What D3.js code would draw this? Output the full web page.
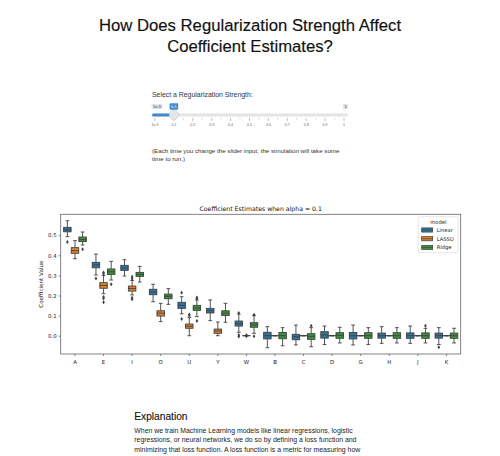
<!DOCTYPE html>
<html>
<head>
<meta charset="utf-8">
<script src="https://cdn.jsdelivr.net/npm/d3@7"></script>
<style>
  body { margin: 0; background: #fff; }
  svg { display: block; }
</style>
</head>
<body>
<svg id="page"></svg>
<script>
const letters = ['A', 'E', 'I', 'O', 'U', 'Y', 'W', 'B', 'C', 'D', 'G', 'H', 'J', 'K'];
const models = ['Linear', 'LASSO', 'Ridge'];
const modelColors = ['#3274a1', '#e1812c', '#3a923a'];
const yTicks = [0.0, 0.1, 0.2, 0.3, 0.4, 0.5];
const sliderTicks = [0, 0.1, 0.2, 0.3, 0.4, 0.5, 0.6, 0.7, 0.8, 0.9, 1];
const sliderLabels = ['1e-9', '0.1', '0.2', '0.3', '0.4', '0.5', '0.6', '0.7', '0.8', '0.9', '1'];
const alpha = 0.1;

// [lower whisker, q1, median, q3, upper whisker]
const linearBox = [
  [0.493, 0.517, 0.527, 0.539, 0.572],
  [0.302, 0.338, 0.352, 0.365, 0.406],
  [0.297, 0.325, 0.337, 0.350, 0.378],
  [0.169, 0.204, 0.217, 0.231, 0.256],
  [0.109, 0.136, 0.151, 0.166, 0.194],
  [0.075, 0.113, 0.125, 0.136, 0.178],
  [0.017, 0.048, 0.060, 0.073, 0.108],
  [-0.060, -0.016, 0.000, 0.017, 0.045],
  [-0.046, -0.020, -0.005, 0.007, 0.053],
  [-0.044, -0.012, 0.004, 0.020, 0.048],
  [-0.046, -0.016, 0.000, 0.016, 0.053],
  [-0.038, -0.012, 0.000, 0.013, 0.045],
  [-0.038, -0.013, 0.000, 0.014, 0.048],
  [-0.044, -0.012, 0.000, 0.013, 0.040]
];
const lassoBox = [
  [0.383, 0.410, 0.423, 0.438, 0.473],
  [0.209, 0.236, 0.250, 0.264, 0.300],
  [0.203, 0.222, 0.235, 0.247, 0.275],
  [0.070, 0.098, 0.112, 0.124, 0.161],
  [0.000, 0.037, 0.047, 0.058, 0.091],
  [0.000, 0.012, 0.024, 0.033, 0.068],
  [0, 0, 0, 0, 0],
  [0, 0, 0, 0, 0],
  [0, 0, 0, 0, 0],
  [0, 0, 0, 0, 0],
  [0, 0, 0, 0, 0],
  [0, 0, 0, 0, 0],
  [0, 0, 0, 0, 0],
  [0, 0, 0, 0, 0]
];
const ridgeBox = [
  [0.451, 0.468, 0.478, 0.491, 0.516],
  [0.277, 0.305, 0.318, 0.332, 0.370],
  [0.267, 0.295, 0.305, 0.315, 0.345],
  [0.156, 0.184, 0.196, 0.207, 0.234],
  [0.095, 0.126, 0.138, 0.151, 0.178],
  [0.067, 0.100, 0.112, 0.124, 0.161],
  [0.012, 0.042, 0.054, 0.065, 0.100],
  [-0.050, -0.015, 0.000, 0.016, 0.040],
  [-0.055, -0.018, -0.003, 0.010, 0.040],
  [-0.036, -0.013, 0.002, 0.015, 0.042],
  [-0.044, -0.013, 0.000, 0.015, 0.040],
  [-0.036, -0.013, 0.000, 0.015, 0.040],
  [-0.036, -0.013, 0.000, 0.014, 0.037],
  [-0.036, -0.013, 0.000, 0.013, 0.037]
];
const linearOut = [[0.466], [0.284], [], [], [0.214, 0.083], [], [0.113, 0.003, -0.004], [], [], [], [], [], [], [-0.058]];
const lassoOut = [[], [0.315, 0.308, 0.193, 0.185, 0.167], [0.293, 0.283, 0.189, 0.182], [], [0.106, 0.100], [], [0.004, -0.003], [], [], [], [], [], [], []];
const ridgeOut = [[0.430], [0.256], [], [], [0.190, 0.185, 0.073], [], [0.104, -0.003], [], [0.050], [], [], [], [0.050], []];

const boxes = [linearBox, lassoBox, ridgeBox];
const outliers = [linearOut, lassoOut, ridgeOut];

const W = 500, H = 456;
const svg = d3.select('#page').attr('width', W).attr('height', H);
const pageFont = '"Liberation Sans", Arial, sans-serif';
const plotFont = '"DejaVu Sans", sans-serif';

// ---- page header ----
svg.append('text').attr('x', 250).attr('y', 31).attr('text-anchor', 'middle')
  .style('font-family', pageFont).style('font-size', '16.7px').attr('fill', '#111')
  .attr('stroke', '#111').attr('stroke-width', 0.15)
  .text('How Does Regularization Strength Affect');
svg.append('text').attr('x', 250).attr('y', 52).attr('text-anchor', 'middle')
  .style('font-family', pageFont).style('font-size', '16.7px').attr('fill', '#111')
  .attr('stroke', '#111').attr('stroke-width', 0.15)
  .text('Coefficient Estimates?');

svg.append('text').attr('x', 152).attr('y', 97)
  .style('font-family', pageFont).style('font-size', '6.9px').attr('fill', '#333')
  .text('Select a Regularization Strength:');

// ---- slider ----
const sx = d3.scaleLinear().domain([0, 1]).range([155, 344]);
const slider = svg.append('g');
slider.append('rect').attr('x', 152).attr('y', 113.5).attr('width', 196).attr('height', 3)
  .attr('rx', 1.5).attr('fill', '#e4e4e4');
slider.append('rect').attr('x', 152).attr('y', 113.5).attr('width', sx(alpha) - 152).attr('height', 3)
  .attr('rx', 1.5).attr('fill', '#428bca');

const minorTicks = d3.range(0.05, 1, 0.1);
slider.selectAll('.minor').data(minorTicks).join('line')
  .attr('x1', d => sx(d)).attr('x2', d => sx(d)).attr('y1', 118).attr('y2', 119.5)
  .attr('stroke', '#aaa').attr('stroke-width', 0.5);
slider.selectAll('.major').data(sliderTicks).join('line')
  .attr('x1', d => sx(d)).attr('x2', d => sx(d)).attr('y1', 118).attr('y2', 121)
  .attr('stroke', '#999').attr('stroke-width', 0.6);
slider.selectAll('.glabel').data(sliderTicks).join('text')
  .attr('x', d => sx(d)).attr('y', 126).attr('text-anchor', 'middle')
  .style('font-family', pageFont).style('font-size', '3.6px').attr('fill', '#666')
  .text((d, i) => sliderLabels[i]);

function tag(x, txt, bg, fg, h) {
  const t = slider.append('text').attr('x', x).attr('y', 108)
    .attr('text-anchor', 'middle').style('font-family', pageFont)
    .style('font-size', '4px').attr('fill', fg).text(txt);
  const w = t.node().getComputedTextLength() + 3;
  slider.insert('rect', () => t.node())
    .attr('x', x - w / 2).attr('y', 106.5 - h / 2).attr('width', w).attr('height', h)
    .attr('rx', 1).attr('fill', bg);
}
tag(157, sliderLabels[0], '#e1e4e9', '#333', 5);
tag(345.5, sliderLabels[sliderLabels.length - 1], '#e1e4e9', '#333', 5);
tag(sx(alpha), String(alpha), '#428bca', '#fff', 6.5);

slider.append('circle').attr('cx', sx(alpha)).attr('cy', 115).attr('r', 4.6)
  .attr('fill', '#e6e6e6').attr('stroke', '#c8c8c8').attr('stroke-width', 0.6);

svg.append('text').attr('x', 152).attr('y', 152.5)
  .style('font-family', pageFont).style('font-size', '6.2px').attr('fill', '#333')
  .text('(Each time you change the slider input, the simulation will take some');
svg.append('text').attr('x', 152).attr('y', 161)
  .style('font-family', pageFont).style('font-size', '6.2px').attr('fill', '#333')
  .text('time to run.)');

// ---- box plot ----
const pLeft = 60.7, pRight = 460.7, pTop = 214.3, pBottom = 354;
const x = d3.scaleBand().domain(letters).range([pLeft, pRight]).padding(0);
const y = d3.scaleLinear().domain([-0.091, 0.604]).range([pBottom, pTop]);
const hue = d3.scaleBand().domain(models).range([0, x.bandwidth() * 0.8]);
const boxW = hue.bandwidth() * 0.98;
const edge = '#404040';

const plot = svg.append('g');

plot.append('text').attr('x', (pLeft + pRight) / 2).attr('y', 211)
  .attr('text-anchor', 'middle').style('font-family', plotFont).style('font-size', '6.2px')
  .attr('fill', '#111').text('Coefficient Estimates when alpha = ' + alpha);

const yAxis = plot.append('g').attr('transform', `translate(${pLeft},0)`)
  .call(d3.axisLeft(y).tickValues(yTicks).tickFormat(d3.format('.1f')).tickSize(2).tickPadding(2));
const xAxis = plot.append('g').attr('transform', `translate(0,${pBottom})`)
  .call(d3.axisBottom(x).tickSize(2).tickPadding(4));
[xAxis, yAxis].forEach(a => {
  a.select('.domain').remove();
  a.selectAll('line').attr('stroke', '#333').attr('stroke-width', 0.6);
  a.selectAll('text').style('font-family', plotFont).style('font-size', '5.4px').attr('fill', '#222');
});

plot.append('text').attr('transform', `translate(42.5,${(pTop + pBottom) / 2}) rotate(-90)`)
  .attr('text-anchor', 'middle').style('font-family', plotFont).style('font-size', '5.6px')
  .attr('fill', '#222').text('Coefficient Value');

models.forEach((m, mi) => {
  const g = plot.append('g');
  const cx = d => x(d) + x.bandwidth() * 0.1 + hue(m) + hue.bandwidth() / 2;
  const data = letters.map((l, i) => ({ l, s: boxes[mi][i], o: outliers[mi][i] }));
  const grp = g.selectAll('g').data(data).join('g');
  grp.append('line').attr('x1', d => cx(d.l)).attr('x2', d => cx(d.l))
    .attr('y1', d => y(d.s[0])).attr('y2', d => y(d.s[1])).attr('stroke', edge).attr('stroke-width', 0.9);
  grp.append('line').attr('x1', d => cx(d.l)).attr('x2', d => cx(d.l))
    .attr('y1', d => y(d.s[3])).attr('y2', d => y(d.s[4])).attr('stroke', edge).attr('stroke-width', 0.9);
  [0, 4].forEach(k => {
    grp.append('line').attr('x1', d => cx(d.l) - boxW / 4).attr('x2', d => cx(d.l) + boxW / 4)
      .attr('y1', d => y(d.s[k])).attr('y2', d => y(d.s[k])).attr('stroke', edge).attr('stroke-width', 0.9);
  });
  grp.append('rect').attr('x', d => cx(d.l) - boxW / 2).attr('width', boxW)
    .attr('y', d => y(d.s[3])).attr('height', d => Math.max(0.01, y(d.s[1]) - y(d.s[3])))
    .attr('fill', modelColors[mi]).attr('stroke', edge).attr('stroke-width', 0.9);
  grp.append('line').attr('x1', d => cx(d.l) - boxW / 2).attr('x2', d => cx(d.l) + boxW / 2)
    .attr('y1', d => y(d.s[2])).attr('y2', d => y(d.s[2])).attr('stroke', edge).attr('stroke-width', 0.9);
  grp.selectAll('path').data(d => d.o.map(v => ({ l: d.l, v }))).join('path')
    .attr('d', d => {
      const px = cx(d.l), py = y(d.v);
      return `M${px},${py - 2}L${px + 1.3},${py}L${px},${py + 2}L${px - 1.3},${py}Z`;
    })
    .attr('fill', edge);
});

plot.append('rect').attr('x', pLeft).attr('y', pTop).attr('width', pRight - pLeft).attr('height', pBottom - pTop)
  .attr('fill', 'none').attr('stroke', '#666').attr('stroke-width', 0.8);

// legend
const lg = plot.append('g').attr('transform', 'translate(418.3,216.7)');
lg.append('rect').attr('width', 40).attr('height', 36).attr('rx', 1.5)
  .attr('fill', '#fff').attr('fill-opacity', 0.8).attr('stroke', '#d6d6d6').attr('stroke-width', 0.6);
lg.append('text').attr('x', 20).attr('y', 7.5).attr('text-anchor', 'middle')
  .style('font-family', plotFont).style('font-size', '5.2px').attr('fill', '#222').text('model');
const item = lg.selectAll('.item').data(models).join('g')
  .attr('transform', (d, i) => `translate(3.4,${13.3 + i * 8.7})`);
item.append('rect').attr('width', 11).attr('height', 4.2).attr('y', -2.1)
  .attr('fill', (d, i) => modelColors[i]).attr('stroke', edge).attr('stroke-width', 0.7);
item.append('line').attr('x1', 0).attr('x2', 11).attr('y1', 0).attr('y2', 0)
  .attr('stroke', edge).attr('stroke-width', 0.6);
item.append('text').attr('x', 15).attr('y', 1.9)
  .style('font-family', plotFont).style('font-size', '5.2px').attr('fill', '#222').text(d => d);

// ---- explanation ----
svg.append('text').attr('x', 134.3).attr('y', 420)
  .style('font-family', pageFont).style('font-size', '10.2px')
  .attr('stroke', '#111').attr('stroke-width', 0.12)
  .attr('fill', '#111').text('Explanation');
const para = [
  'When we train Machine Learning models like linear regressions, logistic',
  'regressions, or neural networks, we do so by defining a loss function and',
  'minimizing that loss function. A loss function is a metric for measuring how'
];
svg.selectAll('.para').data(para).join('text')
  .attr('x', 134.3).attr('y', (d, i) => 432.7 + i * 9.7)
  .style('font-family', pageFont).style('font-size', '6.9px').attr('fill', '#222')
  .text(d => d);
</script>
</body>
</html>
